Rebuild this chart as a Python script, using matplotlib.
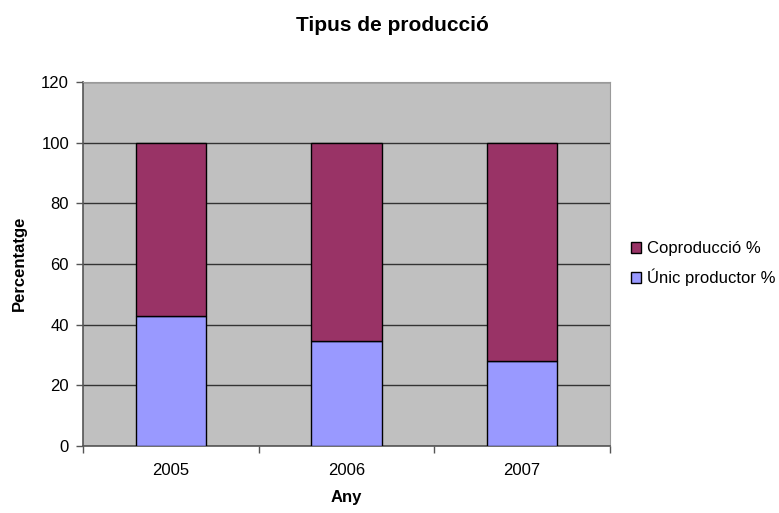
import matplotlib
matplotlib.use("Agg")
import matplotlib.pyplot as plt
import numpy as np

plt.rcParams['font.family'] = ['Liberation Sans', 'DejaVu Sans']

years = ["2005", "2006", "2007"]
unic = [42.7, 34.6, 28.0]
coprod = [57.3, 65.4, 72.0]

W, H = 779, 513
fig = plt.figure(figsize=(W / 100, H / 100), dpi=100)
ax = fig.add_axes([83 / W, 1 - 446 / H, (610 - 83) / W, (446 - 82) / H])
ax.set_facecolor('#C0C0C0')

x = np.arange(len(years))
ax.bar(x, unic, width=0.4, color='#9999FF', edgecolor='black', linewidth=1.0,
       label='Únic productor %', zorder=3)
ax.bar(x, coprod, width=0.4, bottom=unic, color='#993366', edgecolor='black',
       linewidth=1.0, label='Coproducció %', zorder=3)

ax.set_xlim(-0.5, 2.5)
ax.set_ylim(0, 120)
ax.set_yticks(range(0, 121, 20))
ax.yaxis.grid(True, color='#333333', linewidth=1.0, zorder=1)
ax.set_axisbelow(True)

ax.set_xticks(x)
ax.set_xticklabels(years)
ax.set_xticks([-0.5, 0.5, 1.5, 2.5], minor=True)
ax.tick_params(axis='x', which='major', length=0, pad=12, labelsize=12)
ax.tick_params(axis='x', which='minor', length=5, width=1, color='#555555')
ax.tick_params(axis='y', length=5, width=1, color='#555555', labelsize=12, pad=5)

for s in ['left', 'bottom']:
    ax.spines[s].set_color('#555555')
    ax.spines[s].set_linewidth(1.2)
for s in ['top', 'right']:
    ax.spines[s].set_color('#9a9a9a')
    ax.spines[s].set_linewidth(0.8)

fig.text(19 / W, 1 - 263 / H, 'Percentatge', rotation=90, ha='center', va='center',
         fontsize=12, fontweight='bold')
fig.text(346 / W, 1 - 502 / H, 'Any', ha='center', va='baseline',
         fontsize=12, fontweight='bold')
fig.text(392 / W, 1 - 31 / H, 'Tipus de producció', ha='center', va='baseline',
         fontsize=15, fontweight='bold')

handles, labels = ax.get_legend_handles_labels()
ax.legend(handles[::-1], labels[::-1], loc='center left', bbox_to_anchor=(1.012, 0.5),
          frameon=False, fontsize=12, handlelength=0.6, handleheight=0.6,
          handletextpad=0.35, labelspacing=0.75)

fig.savefig('out.png', dpi=100)
